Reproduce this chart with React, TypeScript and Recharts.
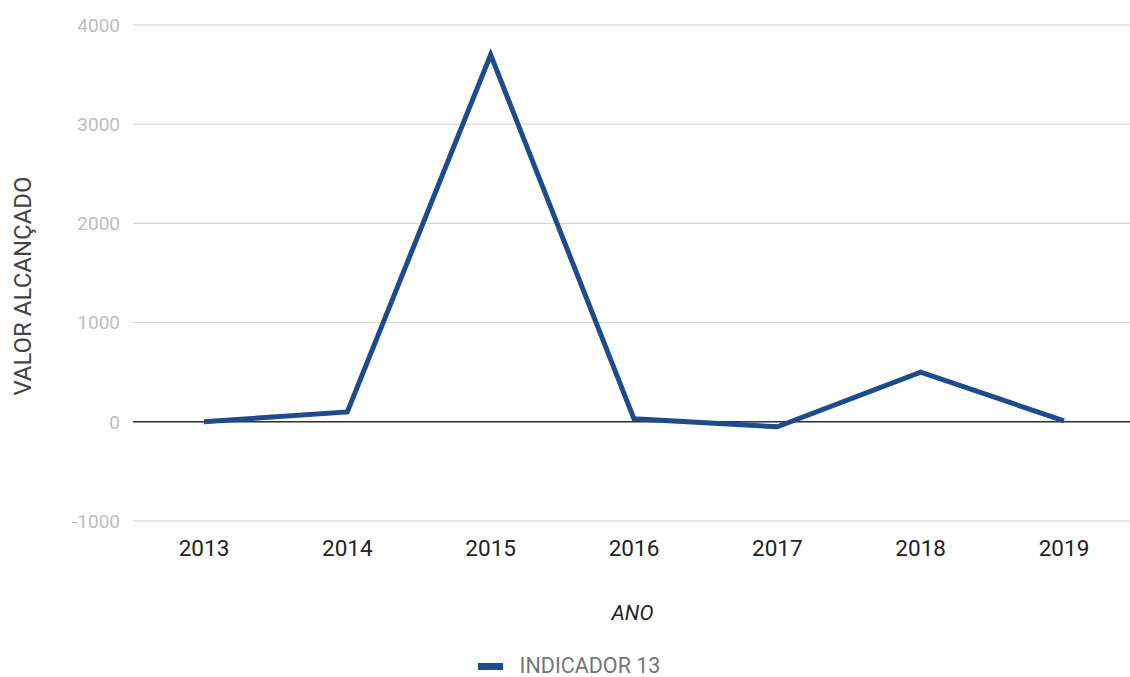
import { LineChart, Line, XAxis, YAxis, CartesianGrid, Legend, ReferenceLine, Label } from "recharts";

const years = ["2013", "2014", "2015", "2016", "2017", "2018", "2019"];
const indicador13 = [0, 100, 3700, 30, -50, 500, 10];
const yTicks = [-1000, 0, 1000, 2000, 3000, 4000];

const data = years.map((ano, i) => ({ ano, valor: indicador13[i] }));

const FONT = "Roboto, 'Noto Sans', sans-serif";
const LINE_COLOR = "#1f4a8c";

const LegendContent = () => (
  <div
    style={{
      display: "flex",
      justifyContent: "center",
      alignItems: "center",
      width: 1130,
      height: 20,
      marginTop: 19,
      paddingLeft: 8,
      boxSizing: "border-box",
      fontFamily: FONT,
      whiteSpace: "nowrap",
    }}
  >
    <span style={{ display: "inline-block", width: 25, height: 7, background: LINE_COLOR, marginRight: 17 }} />
    <span style={{ fontSize: 21.5, color: "#757575", lineHeight: "20px" }}>INDICADOR 13</span>
  </div>
);

const App = () => {
  return (
    <div style={{ position: "absolute", left: 0, top: 0, background: "#fff" }}>
      <LineChart width={1130} height={677} data={data} margin={{ top: 25, right: 0, left: 0, bottom: 0 }}>
        <CartesianGrid vertical={false} stroke="#d0d0d0" />
        <XAxis
          dataKey="ano"
          height={116}
          axisLine={false}
          tickLine={false}
          tickMargin={13}
          padding={{ left: 71, right: 66 }}
          tick={{ fontSize: 22.5, fill: "#222", fontFamily: FONT }}
        >
          <Label
            content={({ viewBox }: any) => (
              <text
                x={viewBox.x + viewBox.width / 2 + 1}
                y={viewBox.y + 99}
                textAnchor="middle"
                fontSize={21}
                fontStyle="italic"
                fill="#222"
                fontFamily={FONT}
              >
                ANO
              </text>
            )}
          />
        </XAxis>
        <YAxis
          width={133}
          domain={[-1000, 4000]}
          ticks={yTicks}
          axisLine={false}
          tickLine={false}
          tickMargin={7}
          tick={{ fontSize: 19, fill: "#bdbdbd", fontFamily: FONT }}
        >
          <Label
            content={() => (
              <text
                x={31}
                y={286}
                transform="rotate(-90, 31, 286)"
                textAnchor="middle"
                fontSize={24}
                fill="#444"
                fontFamily={FONT}
              >
                VALOR ALCANÇADO
              </text>
            )}
          />
        </YAxis>
        <ReferenceLine y={0} stroke="#333" strokeWidth={1.5} />
        <Legend
          verticalAlign="bottom"
          height={40}
          wrapperStyle={{ left: 0, width: 1130 }}
          content={<LegendContent />}
        />
        <Line
          type="linear"
          dataKey="valor"
          name="INDICADOR 13"
          stroke={LINE_COLOR}
          strokeWidth={5}
          strokeLinejoin="miter"
          dot={false}
          activeDot={false}
          isAnimationActive={false}
        />
      </LineChart>
    </div>
  );
};

export default App;
